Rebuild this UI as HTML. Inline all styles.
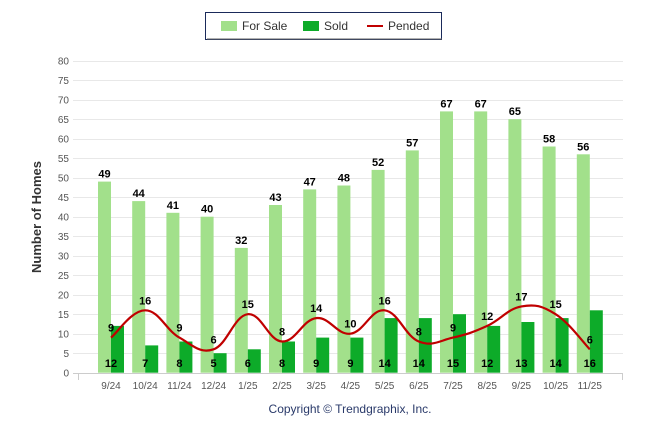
<!DOCTYPE html>
<html><head><meta charset="utf-8"><style>
body{margin:0;background:#fff;width:646px;height:434px;overflow:hidden;font-family:"Liberation Sans",Arial,sans-serif}
</style></head><body>
<svg id="c" width="646" height="434" xmlns="http://www.w3.org/2000/svg" font-family="Liberation Sans, Arial, sans-serif">
<g>
<rect x="205.5" y="12.5" width="236" height="27" fill="#fff" stroke="#1a2a5a" stroke-width="1"/>
<rect x="207" y="38" width="235" height="2" fill="#666" opacity="0.5"/>
<rect x="221" y="21" width="16" height="10" fill="#a2e08b"/>
<text x="242" y="30" font-size="12" fill="#333">For Sale</text>
<rect x="303" y="21" width="16" height="10" fill="#0dab29"/>
<text x="324" y="30" font-size="12" fill="#333">Sold</text>
<line x1="367" y1="26" x2="383" y2="26" stroke="#c00000" stroke-width="2"/>
<text x="388" y="30" font-size="12" fill="#333">Pended</text>
</g>
<text transform="translate(41,217) rotate(-90)" text-anchor="middle" font-size="13" font-weight="bold" fill="#333">Number of Homes</text>
<text x="350" y="413" text-anchor="middle" font-size="12" fill="#2a3a6a">Copyright © Trendgraphix, Inc.</text>
<g id="grid"></g><g id="bars"></g><g id="line"></g><g id="labels"></g>
</svg>
<script>
const categories=["9/24","10/24","11/24","12/24","1/25","2/25","3/25","4/25","5/25","6/25","7/25","8/25","9/25","10/25","11/25"];
const forSale=[49,44,41,40,32,43,47,48,52,57,67,67,65,58,56];
const sold=[12,7,8,5,6,8,9,9,14,14,15,12,13,14,16];
const pended=[9,16,9,6,15,8,14,10,16,8,9,12,17,15,6];
const yTicks=[0,5,10,15,20,25,30,35,40,45,50,55,60,65,70,75,80];
const NS="http://www.w3.org/2000/svg";
function y(v){return 372.7-v*3.9;}
function x(i){return 111+i*34.2;}
function mk(tag,attrs,parent){const e=document.createElementNS(NS,tag);for(const k in attrs)e.setAttribute(k,attrs[k]);parent.appendChild(e);return e;}
const grid=document.getElementById('grid'),bars=document.getElementById('bars'),line=document.getElementById('line'),labels=document.getElementById('labels');
yTicks.forEach(t=>{
 const l=mk('line',{x1:73,x2:623,y1:Math.round(y(t))+0.5,y2:Math.round(y(t))+0.5,stroke:t===0?'#ccc':'#e8e8e8','stroke-width':1},grid);
 
 
 const tx=mk('text',{x:69,y:y(t)+4,'text-anchor':'end','font-size':10,fill:'#555'},grid);
 tx.textContent=t;
 
 
});
[78,622].forEach(px=>{mk('line',{x1:px+0.5,x2:px+0.5,y1:373,y2:380,stroke:'#ccc'},grid);});
categories.forEach((c,i)=>{
 const tx=mk('text',{x:x(i),y:389,'text-anchor':'middle','font-size':10,fill:'#555'},grid);
 tx.textContent=c;
 
 
 const b1=mk('rect',{x:x(i)-13,y:y(forSale[i]),width:13,height:y(0)-y(forSale[i]),fill:'#a2e08b'},bars);
 
 
 const b2=mk('rect',{x:x(i),y:y(sold[i]),width:13,height:y(0)-y(sold[i]),fill:'#0dab29'},bars);
 
 
 const l1=mk('text',{x:x(i)-6.5,y:y(forSale[i])-4,'text-anchor':'middle','font-size':11,'font-weight':'bold',fill:'#000'},labels);
 l1.textContent=forSale[i];
 
 
 const l2=mk('text',{x:x(i),y:367,'text-anchor':'middle','font-size':11,'font-weight':'bold',fill:'#000'},labels);
 l2.textContent=sold[i];
 
 
 const l3=mk('text',{x:x(i),y:y(pended[i])-6,'text-anchor':'middle','font-size':11,'font-weight':'bold',fill:'#000'},labels);
 l3.textContent=pended[i];
 
 
});
const pts=pended.map((v,i)=>[x(i),y(v)]);
let d='M'+pts[0][0]+','+pts[0][1];
for(let i=0;i<pts.length-1;i++){
 const p0=pts[i-1]||pts[i],p1=pts[i],p2=pts[i+1],p3=pts[i+2]||p2;
 const t=0.2;
 const c1=[p1[0]+(p2[0]-p0[0])*t,p1[1]+(p2[1]-p0[1])*t];
 const c2=[p2[0]-(p3[0]-p1[0])*t,p2[1]-(p3[1]-p1[1])*t];
 d+=' C'+c1+' '+c2+' '+p2;
}
const pl=mk('path',{d:d,fill:'none',stroke:'#c00000','stroke-width':2.2},line);


</script>
</body></html>
